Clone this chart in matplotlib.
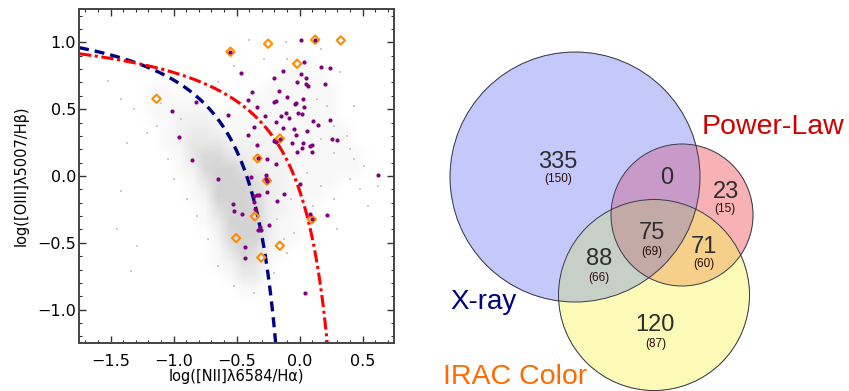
import numpy as np
import matplotlib
matplotlib.use('Agg')
import matplotlib.pyplot as plt
from matplotlib.patches import Circle
from matplotlib.colors import to_rgba

# ---- BPT diagram data ----
# purple: X-ray / AGN sources
purple_x = [-0.548, 0.008, 0.124, 0.037, -0.468, -0.132, 0.167, 0.241, -0.201, 0.008,
            0.048, -0.019, 0.05, 0.071, 0.206, -0.376, -0.161, -0.103, -0.407, -0.206,
            -0.188, 0.024, -0.026, -0.037, -0.825, -0.336, 0.034, -0.111, -0.143, -0.011,
            0.021, -1.01, -0.571, -0.272, -0.082, -0.185, 0.106, 0.243, -0.362, -0.130,
            -0.042, 0.061, 0.143, -0.407, -0.026, -0.955, -0.156, -0.205, -0.19, -0.058,
            0.024, 0.257, 0.294, -0.339, 0.082, 0.10, 0.021, -0.016, 0.098, -0.333,
            -0.257, -0.854, -0.188, -0.386, -0.265, -0.265, -0.259, -0.648, 0.003, 0.624,
            -0.336, -0.32, -0.362, -0.122, -0.259, -0.362, -0.177, -0.529, -0.521, -0.460,
            -0.352, 0.087, 0.098, 0.217, -0.310, -0.302, -0.328, -0.246, -0.431, -0.431,
            0.042]
purple_y = [0.93, 1.015, 1.02, 0.857, 0.77, 0.785, 0.815, 0.81, 0.735, 0.765,
            0.73, 0.70, 0.685, 0.675, 0.69, 0.63, 0.635, 0.595, 0.57, 0.557,
            0.563, 0.575, 0.55, 0.542, 0.553, 0.52, 0.513, 0.475, 0.45, 0.475,
            0.462, 0.49, 0.457, 0.452, 0.432, 0.407, 0.412, 0.422, 0.367, 0.362,
            0.352, 0.337, 0.38, 0.31, 0.305, 0.292, 0.28, 0.262, 0.255, 0.245,
            0.25, 0.275, 0.272, 0.235, 0.222, 0.232, 0.207, 0.177, 0.182, 0.132,
            0.13, 0.122, 0.092, -0.005, 0.005, -0.025, -0.035, -0.025, -0.057, 0.005,
            -0.14, -0.14, -0.15, -0.137, -0.122, -0.192, -0.187, -0.21, -0.26, -0.282,
            -0.245, -0.285, -0.325, -0.295, -0.38, -0.407, -0.407, -0.37, -0.532, -0.617,
            -0.875]

# orange diamonds: IRAC colour sources
irac_x = [-0.548, -0.249, 0.124, 0.328, -0.019, -1.135, -0.156, -0.333, -0.259, -0.354,
          0.098, -0.503, -0.156, -0.304]
irac_y = [0.93, 0.99, 1.02, 1.015, 0.84, 0.578, 0.28, 0.132, -0.035, -0.302,
          -0.325, -0.465, -0.522, -0.61]

# scattered grey SDSS galaxies away from the dense cloud
cloud_x = [-1.447, -1.29, -1.336, -1.42, -1.37, -1.52, -0.40, -0.11, 0.40, 0.51,
           0.40, 0.27, 0.30, 0.17, 0.38, 0.22, 0.14, -0.045, -0.10, 0.11,
           0.27, 0.48, 0.62, 0.325, -0.098, -0.52, -0.786, -1.10, -1.21, -1.13,
           -1.04, -1.0, -0.89, -0.81, -0.73, -0.65, -0.52, -0.36, -0.2, -0.124,
           -0.18, -0.07, 0.06, 0.27, 0.17, 0.43, -1.31, -1.42, -0.94, -0.89,
           -0.65, -0.28, 0.17, 0.54, 0.43]
cloud_y = [-0.4, -0.525, -0.71, -0.11, 0.25, 0.71, 1.02, 1.0, 0.2, 0.075,
           -0.025, -0.175, -0.4, -0.075, 0.3, 0.525, 0.575, -0.425, -0.575, -0.225,
           0.175, -0.1, -0.075, 0.775, 0.875, 0.825, 0.7, 0.55, 0.325, 0.375,
           0.125, -0.025, -0.175, -0.3, -0.475, -0.675, -0.825, -0.875, -0.725, -0.475,
           -0.325, -0.175, 0.025, 0.375, 0.275, 0.525, 0.5, 0.575, 0.425, 0.65,
           0.7, 0.875, 0.95, -0.225, 0.125]

# density of the grey cloud, 0.1 dex cells, x -1.3..0.6, y 0.9 (top row) .. -1.0
density = np.array([
    [0, 0, 0, 0, 0, 0, 0, 0, 0, 0, 0, 0, 1, 1, 0, 0, 0, 0, 0],
    [0, 0, 0, 0, 0, 0, 0, 0, 0, 0, 0, 1, 1, 1, 1, 0, 0, 0, 0],
    [0, 1, 1, 0, 0, 0, 0, 0, 0, 0, 1, 1, 1, 1, 1, 1, 0, 0, 0],
    [0, 1, 1, 1, 1, 1, 0, 0, 0, 1, 1, 1, 1, 1, 1, 1, 0, 0, 0],
    [0, 1, 1, 2, 2, 2, 1, 1, 1, 1, 1, 1, 1, 1, 1, 1, 0, 0, 0],
    [0, 0, 1, 2, 3, 3, 2, 1, 1, 1, 1, 1, 1, 1, 1, 1, 1, 0, 0],
    [0, 0, 1, 2, 4, 4, 4, 2, 2, 2, 2, 1, 1, 1, 1, 1, 1, 0, 0],
    [0, 0, 0, 1, 4, 6, 6, 4, 3, 2, 2, 2, 1, 1, 1, 1, 1, 1, 0],
    [0, 0, 0, 1, 2, 6, 8, 7, 5, 3, 2, 2, 1, 1, 1, 1, 1, 1, 0],
    [0, 0, 0, 0, 1, 4, 8, 9, 7, 5, 3, 2, 1, 1, 1, 1, 0, 0, 0],
    [0, 0, 0, 0, 1, 2, 7, 9, 9, 6, 3, 2, 1, 1, 1, 0, 0, 0, 0],
    [0, 0, 0, 0, 0, 1, 5, 9, 10, 7, 3, 2, 1, 1, 0, 0, 0, 0, 0],
    [0, 0, 0, 0, 0, 1, 3, 8, 10, 8, 3, 1, 1, 0, 0, 0, 0, 0, 0],
    [0, 0, 0, 0, 0, 0, 2, 6, 9, 7, 3, 1, 1, 0, 0, 0, 0, 0, 0],
    [0, 0, 0, 0, 0, 0, 1, 4, 7, 5, 2, 1, 0, 0, 0, 0, 0, 0, 0],
    [0, 0, 0, 0, 0, 0, 1, 2, 5, 4, 1, 0, 0, 0, 0, 0, 0, 0, 0],
    [0, 0, 0, 0, 0, 0, 0, 1, 3, 3, 1, 0, 0, 0, 0, 0, 0, 0, 0],
    [0, 0, 0, 0, 0, 0, 0, 0, 1, 1, 0, 0, 0, 0, 0, 0, 0, 0, 0],
    [0, 0, 0, 0, 0, 0, 0, 0, 0, 0, 0, 0, 0, 0, 0, 0, 0, 0, 0],
], dtype=float)

# demarcation lines (Kauffmann 2003, Kewley 2001)
kauff = (0.61, 0.05, 1.30)
kewley = (0.61, 0.47, 1.19)

# ---- Venn data ----
venn_numbers = ['335', '0', '23', '88', '75', '71', '120']
venn_sub = ['(150)', '', '(15)', '(66)', '(69)', '(60)', '(87)']

fig = plt.figure(figsize=(8.49, 3.91), dpi=100)

# ================= left panel =================
ax = fig.add_axes([79 / 849, 1 - 343 / 391, 315 / 849, 334 / 391])

# grey cloud as an opaque shade blended with white
grey = 0.83
frac = np.clip(density / 7.0, 0, 1)
shade = 1 - frac * (1 - grey)
rgb = np.dstack([shade, shade, shade])
ax.imshow(rgb, extent=(-1.3, 0.6, -1.0, 0.9), origin='upper',
          interpolation='bilinear', aspect='auto', zorder=1)
ax.scatter(cloud_x, cloud_y, s=2, marker='s', color='#cccccc', lw=0, zorder=1)

xk = np.linspace(-1.75, 0.05 + kauff[0] / (-1.25 - kauff[2]), 300)
ax.plot(xk, kauff[0] / (xk - kauff[1]) + kauff[2], color='#000080', lw=2.4,
        dashes=(3, 1.8), zorder=2)
xw = np.linspace(-1.75, 0.47 + kewley[0] / (-1.25 - kewley[2]), 300)
ax.plot(xw, kewley[0] / (xw - kewley[1]) + kewley[2], color='#ff0000', lw=2.2,
        dashes=(4, 1.2, 1, 1.2), zorder=2)

ax.scatter(irac_x, irac_y, s=18, marker='D', facecolor='none', edgecolor='#ff8c00',
           lw=1.5, zorder=3)
ax.scatter(purple_x, purple_y, s=9, marker='o', color='#800080', lw=0, zorder=4)

ax.set_xlim(-1.75, 0.75)
ax.set_ylim(-1.25, 1.25)
ax.set_xticks([-1.5, -1.0, -0.5, 0.0, 0.5])
ax.set_yticks([-1.0, -0.5, 0.0, 0.5, 1.0])
ax.set_xticklabels(['\u22121.5', '\u22121.0', '\u22120.5', '0.0', '0.5'])
ax.set_yticklabels(['\u22121.0', '\u22120.5', '0.0', '0.5', '1.0'])
ax.set_xticks(np.arange(-1.7, 0.75, 0.1), minor=True)
ax.set_yticks(np.arange(-1.2, 1.25, 0.1), minor=True)
ax.tick_params(which='both', direction='in', top=True, right=True, color='#333333')
ax.tick_params(which='major', length=5, width=1, labelsize=11.5)
ax.tick_params(which='minor', length=2.5, width=0.8)
ax.tick_params(axis='x', which='major', pad=8)
ax.tick_params(axis='y', which='major', pad=2)
for s in ax.spines.values():
    s.set_linewidth(1.4)
    s.set_color('#444444')
ax.set_xlabel('log([NII]\u03bb6584/H\u03b1)', fontsize=10.5, labelpad=0)
ax.set_ylabel('log([OIII]\u03bb5007/H\u03b2)', fontsize=10.5, labelpad=6)

# ================= right panel: Venn =================
ax2 = fig.add_axes([430 / 849, 0, 419 / 849, 1])
ax2.set_xlim(430, 849)
ax2.set_ylim(391, 0)
ax2.axis('off')

cx_, cy_, r_ = 575, 177, 125      # X-ray
cp_, cq_, rp_ = 682, 215, 71      # Power-Law
ci_, cj_, ri_ = 654, 295, 95.5    # IRAC

gx = np.arange(440, 770, 0.25)
gy = np.arange(40, 395, 0.25)
GX, GY = np.meshgrid(gx, gy)
inX = (GX - cx_) ** 2 + (GY - cy_) ** 2 <= r_ ** 2
inP = (GX - cp_) ** 2 + (GY - cq_) ** 2 <= rp_ ** 2
inI = (GX - ci_) ** 2 + (GY - cj_) ** 2 <= ri_ ** 2
img = np.zeros(GX.shape + (4,))
regions = [
    (inX & ~inP & ~inI, '#c5c9fb'),
    (inP & ~inX & ~inI, '#f9b3b5'),
    (inI & ~inX & ~inP, '#fbfbb8'),
    (inX & inP & ~inI, '#c89bc9'),
    (inX & inI & ~inP, '#c6d0c8'),
    (inP & inI & ~inX, '#f6cf8b'),
    (inX & inP & inI, '#c4aaa8'),
]
for mask, col in regions:
    img[mask] = to_rgba(col)
ax2.imshow(img, extent=(440, 770, 395, 40), origin='upper', aspect='auto',
           interpolation='antialiased', zorder=1)
for (a, b, r) in [(cx_, cy_, r_), (cp_, cq_, rp_), (ci_, cj_, ri_)]:
    ax2.add_patch(Circle((a, b), r, fill=False, edgecolor='#3a3a4a', lw=0.7, zorder=2))

num_pos = [(558, 162), (667, 178), (726, 192), (599, 259), (652, 233), (704, 247), (655, 325)]
sub_pos = [(558, 179), (667, 195), (725, 209), (599, 278), (652, 252), (704, 264), (656, 344)]
for t, s, (x, y), (sx, sy) in zip(venn_numbers, venn_sub, num_pos, sub_pos):
    ax2.text(x, y, t, ha='center', va='center', fontsize=17, color='#2e2e2e',
             family='Liberation Sans', zorder=3)
    if s:
        ax2.text(sx, sy, s, ha='center', va='center', fontsize=8.5, color='#2a0a0a',
                 family='Liberation Sans', zorder=3)

ax2.text(702, 127, 'Power-Law', ha='left', va='center', fontsize=20.5,
         color='#d00000', family='Liberation Sans', zorder=3)
ax2.text(450, 302, 'X-ray', ha='left', va='center', fontsize=20,
         color='#000080', family='Liberation Sans', zorder=3)
ax2.text(443, 377, 'IRAC Color', ha='left', va='center', fontsize=20.5,
         color='#ff6a00', family='Liberation Sans', zorder=3)

fig.savefig('out.png', dpi=100)
